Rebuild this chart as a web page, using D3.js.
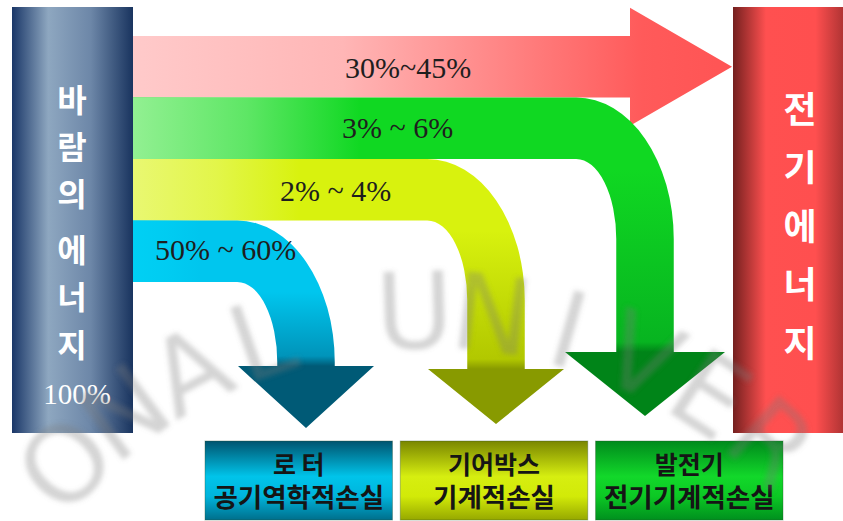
<!DOCTYPE html>
<html><head><meta charset="utf-8">
<script src="https://cdn.jsdelivr.net/npm/d3@7"></script>
<style>body{margin:0;background:#fff}svg{display:block}</style>
</head><body>
<script>
// ---- data ----
const sourceChars = ["바","람","의","에","너","지"];
const sourceLabel = "100%";
const targetChars = ["전","기","에","너","지"];
const flowRows = ["전기", "발전기", "기어박스", "로터"];           // top to bottom
const flowLabels = ["30%~45%", "3% ~ 6%", "2% ~ 4%", "50% ~ 60%"];
const lossNames = ["로터", "기어박스", "발전기"];                   // left to right
const lossLine1 = ["로 터", "기어박스", "발전기"];
const lossLine2 = ["공기역학적손실", "기계적손실", "전기기계적손실"];
const watermarkLetters = ["O","N","A","L","","U","N","I","V","E","R"];

const W = 843, H = 521;
const svg = d3.select("body").append("svg").attr("width", W).attr("height", H);
const defs = svg.append("defs");

// ---- scales ----
const yRow = d3.scaleBand().domain(flowRows).range([36, 282]);
const xDrop = d3.scaleOrdinal().domain(lossNames).range([306, 496, 645]);
const headBase = d3.scaleOrdinal().domain(lossNames).range([366, 369, 352]);
const headTip = d3.scaleOrdinal().domain(lossNames).range([428, 424, 416]);
const headHalf = d3.scaleOrdinal().domain(lossNames).range([68, 68, 80]);
const xBox = d3.scaleBand().domain(lossNames).range([205, 783]).paddingInner(0.04);
const yBox = d3.scaleLinear().domain([0, 1]).range([441, 520]);
const yChar = d3.scaleLinear().domain([0, 5]).range([100, 337]);
const yCharR = d3.scaleLinear().domain([0, 4]).range([110, 344]);
const wmAngle = d3.scaleLinear().domain([0, watermarkLetters.length - 1]).range([-45.5, 42]);

const x0 = 133;

function lin(id, x1, y1, x2, y2, stops) {
  const g = defs.append("linearGradient").attr("id", id).attr("gradientUnits", "userSpaceOnUse")
    .attr("x1", x1).attr("y1", y1).attr("x2", x2).attr("y2", y2);
  stops.forEach(s => g.append("stop").attr("offset", s[0]).attr("stop-color", s[1]).attr("stop-opacity", s[2] == null ? 1 : s[2]));
  return `url(#${id})`;
}

// ---- source bar ----
svg.append("rect").attr("x", 12).attr("y", 7).attr("width", x0 - 12).attr("height", 426)
  .attr("fill", lin("gSrc", 12, 0, x0, 0, [[0, "#1a3768"], [0.3, "#8ea7c0"], [0.65, "#6d87a8"], [1, "#19345f"]]));
svg.append("g").selectAll("text").data(sourceChars).join("text")
  .attr("x", 72).attr("y", (d, i) => yChar(i) + (i >= 3 ? 8 : 0)).attr("dy", "0.36em")
  .attr("text-anchor", "middle").attr("fill", "#fff")
  .style("font-family", "'Noto Sans CJK KR', sans-serif").style("font-weight", 700).style("font-size", "32px")
  .text(d => d);
svg.append("text").attr("x", 77).attr("y", 394).attr("dy", "0.35em").attr("text-anchor", "middle")
  .attr("fill", "#fff").style("font-family", "'Liberation Serif', serif").style("font-size", "29px").text(sourceLabel);

// ---- target bar ----
svg.append("rect").attr("x", 733).attr("y", 7).attr("width", W - 733).attr("height", 426)
  .attr("fill", lin("gTgt", 733, 0, W, 0, [[0, "#74201f"], [0.3, "#ff5050"], [0.75, "#ff4f4f"], [1, "#b13434"]]));
svg.append("g").selectAll("text").data(targetChars).join("text")
  .attr("x", 800).attr("y", (d, i) => yCharR(i)).attr("dy", "0.36em")
  .attr("text-anchor", "middle").attr("fill", "#fff")
  .style("font-family", "'Noto Sans CJK KR', sans-serif").style("font-weight", 700).style("font-size", "36px")
  .text(d => d);

// ---- red flow (to electricity) ----
{
  const t = yRow(flowRows[0]), b = t + yRow.bandwidth(), mid = (t + b) / 2;
  const hb = 630, tip = 732, hh = 59;
  const p = d3.path();
  p.moveTo(x0, t); p.lineTo(hb, t); p.lineTo(hb, mid - hh); p.lineTo(tip, mid);
  p.lineTo(hb, mid + hh); p.lineTo(hb, b); p.lineTo(x0, b); p.closePath();
  svg.append("path").attr("d", p.toString())
    .attr("fill", lin("gRed", x0, 0, tip, 0, [[0, "#ffcaca"], [0.35, "#ffb6b6"], [0.62, "#ff8484"], [0.85, "#ff5a5a"], [1, "#ff5454"]]));
}

// ---- drop flows ----
const dropStyle = {
  "발전기": {bright: "#10d822", mid: "#07b420", dark: "#008418", tint: "#92f092", tintEnd: 360},
  "기어박스": {bright: "#d8f20e", mid: "#b2c800", dark: "#889a00", tint: "#e9f872", tintEnd: 300},
  "로터": {bright: "#00c6ee", mid: "#0094ba", dark: "#005a76", tint: "#00d0f4", tintEnd: 200}
};
flowRows.slice(1).forEach((name, k) => {
  const st = dropStyle[name];
  const t = yRow(name), b = t + yRow.bandwidth();
  const xc = xDrop(name), sw = yRow.bandwidth() - 4;
  const xl = xc - sw / 2, xr = xc + sw / 2;
  const Rix = 40, Riy = 80, Rox = Rix + sw, Roy = Riy + (b - t);
  const ab = headBase(name), at = headTip(name), hw = headHalf(name);
  const d = `M${x0},${t} H${xr - Rox} A${Rox},${Roy} 0 0 1 ${xr},${t + Roy} V${ab} H${xc + hw} L${xc},${at} L${xc - hw},${ab} H${xl} V${b + Riy} A${Rix},${Riy} 0 0 0 ${xl - Rix},${b} H${x0} Z`;
  const off = v => (v - t) / (at - t);
  const fill = lin("gD" + k, 0, t, 0, at, [[0, st.bright], [off(b + 10), st.bright], [off(ab - 10), st.mid], [off(ab), st.dark], [1, st.dark]]);
  svg.append("path").attr("d", d).attr("fill", fill);
  svg.append("rect").attr("x", x0).attr("y", t).attr("width", st.tintEnd - x0).attr("height", b - t)
    .attr("fill", lin("gT" + k, x0, 0, st.tintEnd, 0, [[0, st.tint, 1], [0.5, st.tint, 0.6], [1, st.tint, 0]]));
});

// ---- flow labels ----
const labelPos = [[345, 78], [342, 138], [280, 201], [155, 260]];
svg.append("g").selectAll("text").data(flowLabels).join("text")
  .attr("x", (d, i) => labelPos[i][0]).attr("y", (d, i) => labelPos[i][1])
  .attr("fill", "#1e1e1e").style("font-family", "'Liberation Serif', serif").style("font-size", "30px")
  .text(d => d);

// ---- loss boxes ----
const boxStops = {
  "로터": [[0, "#00546f"], [0.45, "#00c4ea"], [0.7, "#00b4dc"], [1, "#006f8c"]],
  "기어박스": [[0, "#7a8600"], [0.45, "#d6ee10"], [0.7, "#d2ea08"], [1, "#96a800"]],
  "발전기": [[0, "#008a1c"], [0.45, "#12d82a"], [0.7, "#0cc824"], [1, "#00901e"]]
};
const boxes = svg.append("g").selectAll("g").data(lossNames).join("g");
boxes.append("rect").attr("x", d => xBox(d)).attr("y", yBox(0)).attr("width", xBox.bandwidth()).attr("height", yBox(1) - yBox(0))
  .attr("fill", (d, i) => lin("gB" + i, 0, yBox(0), 0, yBox(1), boxStops[d]))
  .attr("stroke", "#2a4a2a").attr("stroke-opacity", 0.35);
const bt = boxes.append("text").attr("text-anchor", "middle").attr("fill", "#151515")
  .style("font-family", "'Noto Sans CJK KR', sans-serif").style("font-weight", 700);
bt.append("tspan").attr("x", d => xBox(d) + xBox.bandwidth() / 2).attr("y", 465).attr("dy", "0.36em")
  .style("font-size", "25px").text((d, i) => lossLine1[i]);
bt.append("tspan").attr("x", d => xBox(d) + xBox.bandwidth() / 2).attr("y", 497).attr("dy", "0.36em")
  .style("font-size", "26.5px").text((d, i) => lossLine2[i]);

// ---- watermark (faint, blurred, letters along an arc) ----
const blur = defs.append("filter").attr("id", "blur").attr("x", "-30%").attr("y", "-30%").attr("width", "160%").attr("height", "160%");
blur.append("feGaussianBlur").attr("stdDeviation", 2.5);
const cx = 430, cy = 822, R = 512;
svg.append("g").attr("filter", "url(#blur)").selectAll("text").data(watermarkLetters).join("text")
  .attr("transform", (d, i) => {
    const a = wmAngle(i) * Math.PI / 180;
    return `translate(${cx + R * Math.sin(a)},${cy - R * Math.cos(a)}) rotate(${wmAngle(i)})`;
  })
  .attr("text-anchor", "middle").attr("dy", "0.36em")
  .attr("fill", "#7a7a7a").attr("fill-opacity", 0.32)
  .style("font-family", "'DejaVu Sans', sans-serif").style("font-size", "106px")
  .text(d => d);
</script>
</body></html>
